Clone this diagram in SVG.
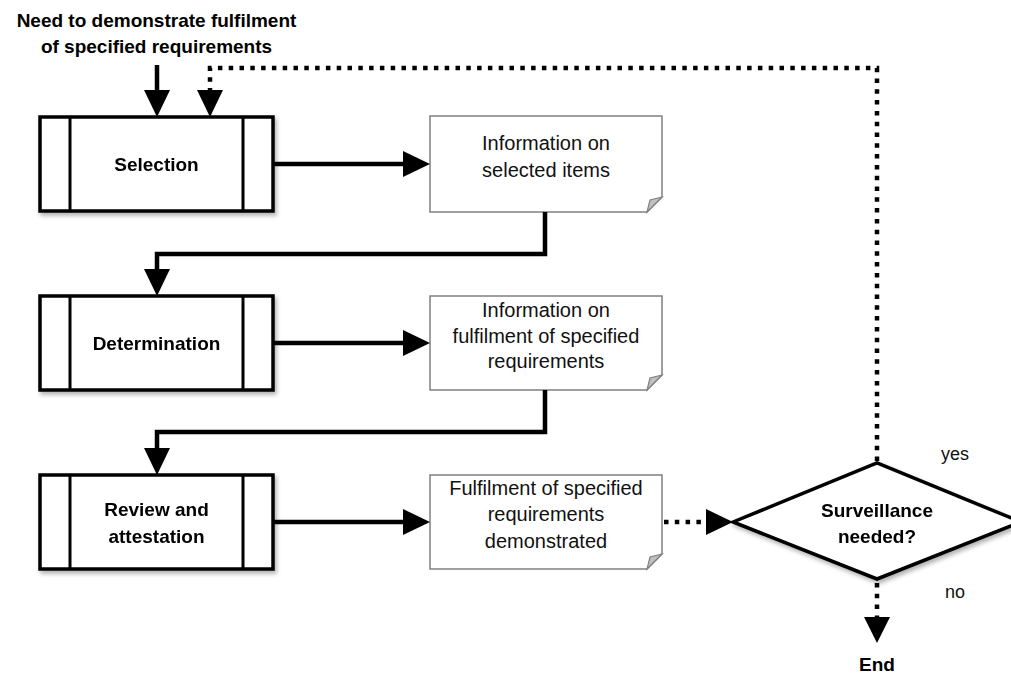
<svg xmlns="http://www.w3.org/2000/svg" width="1011" height="675" viewBox="0 0 1011 675">
<defs>
<filter id="sh" x="-10%" y="-10%" width="130%" height="140%">
<feDropShadow dx="2" dy="3" stdDeviation="2" flood-color="#000" flood-opacity="0.3"/>
</filter>
<style>
.proc{fill:#fff;stroke:#000;stroke-width:3.5;}
.bar{stroke:#000;stroke-width:3;}
.doc{fill:#fff;stroke:#808080;stroke-width:1.5;}
.fold{fill:#c0c0c0;stroke:#808080;stroke-width:1.2;}
.dia{fill:#fff;stroke:#000;stroke-width:3.5;}
.solid{fill:none;stroke:#000;stroke-width:4.5;}
.dot{fill:none;stroke:#000;stroke-width:4.5;stroke-dasharray:4.5 6.3;}
.head{fill:#000;}
.b{font-family:"Liberation Sans",Arial,sans-serif;font-weight:bold;font-size:19px;fill:#000;text-anchor:middle;}
.n{font-family:"Liberation Sans",Arial,sans-serif;font-size:20px;fill:#111;text-anchor:middle;}
.s{font-family:"Liberation Sans",Arial,sans-serif;font-size:18px;fill:#111;text-anchor:middle;}
</style>
</defs>
<rect width="1011" height="675" fill="#fff"/>

<g id="title">
<text class="b" x="156.5" y="27" font-size="19.5">Need to demonstrate fulfilment</text>
<text class="b" x="156.5" y="53" font-size="19.5">of specified requirements</text>
</g>

<g id="selection" filter="url(#sh)">
<rect class="proc" x="40" y="117" width="233" height="94"/>
<line class="bar" x1="70" y1="117" x2="70" y2="211"/>
<line class="bar" x1="243" y1="117" x2="243" y2="211"/>
<text class="b" x="156.5" y="171">Selection</text>
</g>

<g id="determination" filter="url(#sh)">
<rect class="proc" x="40" y="296" width="233" height="94"/>
<line class="bar" x1="70" y1="296" x2="70" y2="390"/>
<line class="bar" x1="243" y1="296" x2="243" y2="390"/>
<text class="b" x="156.5" y="350">Determination</text>
</g>

<g id="review" filter="url(#sh)">
<rect class="proc" x="40" y="475" width="233" height="94"/>
<line class="bar" x1="70" y1="475" x2="70" y2="569"/>
<line class="bar" x1="243" y1="475" x2="243" y2="569"/>
<text class="b" x="156.5" y="516">Review and</text>
<text class="b" x="156.5" y="543">attestation</text>
</g>

<g id="info1">
<path class="doc" d="M430,116 H662 V197 L647,212 H430 Z"/>
<path class="fold" d="M647,212 L662,197 L650,200 Z"/>
<text class="n" x="546" y="150">Information on</text>
<text class="n" x="546" y="177">selected items</text>
</g>

<g id="info2">
<path class="doc" d="M430,296 H662 V375 L647,390 H430 Z"/>
<path class="fold" d="M647,390 L662,375 L650,378 Z"/>
<text class="n" x="546" y="317">Information on</text>
<text class="n" x="546" y="343">fulfilment of specified</text>
<text class="n" x="546" y="368">requirements</text>
</g>

<g id="info3">
<path class="doc" d="M430,475 H662 V554 L647,569 H430 Z"/>
<path class="fold" d="M647,569 L662,554 L650,557 Z"/>
<text class="n" x="546" y="495">Fulfilment of specified</text>
<text class="n" x="546" y="521">requirements</text>
<text class="n" x="546" y="548">demonstrated</text>
</g>

<g id="decision" filter="url(#sh)">
<polygon class="dia" points="733,522 877,463 1021,522 877,579"/>
<text class="b" x="877" y="517">Surveillance</text>
<text class="b" x="877" y="543">needed?</text>
</g>

<g id="labels">
<text class="s" x="955" y="460">yes</text>
<text class="s" x="955" y="598">no</text>
<text class="b" x="877" y="671">End</text>
</g>

<g id="connectors">
<line class="solid" x1="157" y1="65" x2="157" y2="92"/>
<polygon class="head" points="144,90 170,90 157,117"/>

<line class="solid" x1="273" y1="164" x2="405" y2="164"/>
<polygon class="head" points="403,151 430,164 403,177"/>

<path class="solid" d="M545,212 V254 H157 V271"/>
<polygon class="head" points="144,269 170,269 157,296"/>

<line class="solid" x1="273" y1="343" x2="405" y2="343"/>
<polygon class="head" points="403,330 430,343 403,356"/>

<path class="solid" d="M545,390 V432 H157 V450"/>
<polygon class="head" points="144,448 170,448 157,475"/>

<line class="solid" x1="273" y1="522" x2="405" y2="522"/>
<polygon class="head" points="403,509 430,522 403,535"/>

<line class="dot" x1="664" y1="522" x2="706" y2="522"/>
<polygon class="head" points="706,509 733,522 706,535"/>

<path class="dot" d="M877,461 V68 H210 V90"/>
<polygon class="head" points="197,90 223,90 210,117"/>

<line class="dot" x1="877" y1="583" x2="877" y2="617"/>
<polygon class="head" points="864,617 890,617 877,643"/>
</g>
</svg>
